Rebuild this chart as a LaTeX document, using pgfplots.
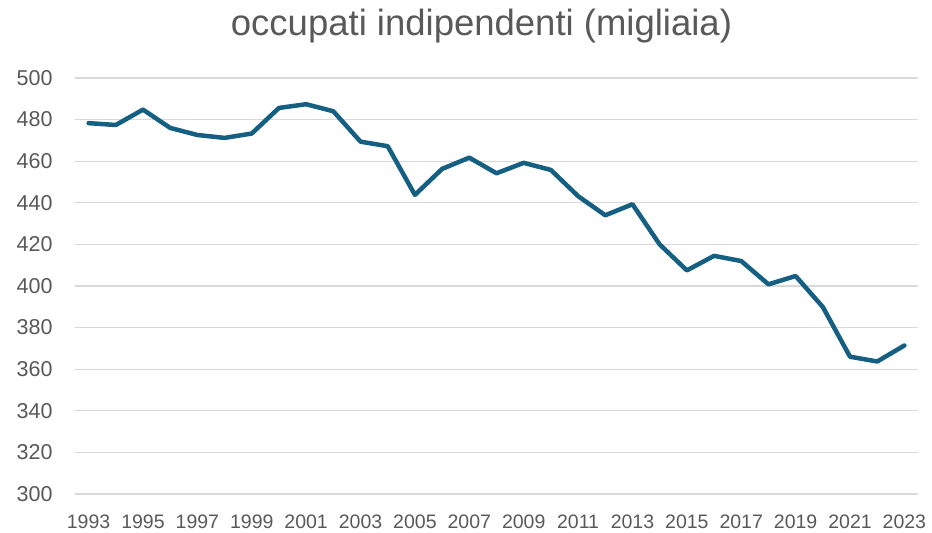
\documentclass[border=0pt]{standalone}
\usepackage{fontspec}
\setmainfont{Liberation Sans}
\usepackage{pgfplots}
\pgfplotsset{compat=1.18}
\definecolor{serie}{HTML}{156082}
\definecolor{testo}{HTML}{595959}
\definecolor{griglia}{HTML}{D9D9D9}

\begin{document}
\begin{tikzpicture}
\begin{axis}[
  name=ax,
  scale only axis,
  width=843bp, height=416bp,
  xmin=1992.5, xmax=2023.5,
  ymin=300, ymax=500,
  xtick={1993,1995,...,2023},
  ytick={300,320,...,500},
  axis line style={draw=none},
  major tick length=0pt,
  ymajorgrids,
  grid style={griglia, line width=1.3bp},
  tick label style={text=testo},
  /pgf/number format/assume math mode=true,
  /pgf/number format/set thousands separator={},
  xticklabel style={font=\fontsize{19.5bp}{22bp}\selectfont, yshift=-17bp},
  yticklabel style={font=\fontsize{21.5bp}{24bp}\selectfont, xshift=-19bp},
  clip=false,
]
\addplot[serie, line width=4.5bp, line join=round, line cap=round] coordinates {
  (1993,478.3) (1994,477.4) (1995,484.8) (1996,476.0) (1997,472.6)
  (1998,471.2) (1999,473.3) (2000,485.6) (2001,487.4) (2002,484.0)
  (2003,469.4) (2004,467.2) (2005,443.8) (2006,456.3) (2007,461.7)
  (2008,454.2) (2009,459.2) (2010,455.8) (2011,443.2) (2012,434.0)
  (2013,439.3) (2014,420.0) (2015,407.5) (2016,414.5) (2017,412.0)
  (2018,400.8) (2019,404.8) (2020,389.9) (2021,366.0) (2022,363.7)
  (2023,371.4)};
\end{axis}
\node[text=testo, font=\fontsize{36.5bp}{42bp}\selectfont, anchor=center]
  at ([shift={(-15bp,52bp)}]ax.north) {occupati indipendenti (migliaia)};
\path[use as bounding box] ([shift={(-75bp,-39bp)}]ax.south west)
  rectangle ([shift={(14bp,78bp)}]ax.north east);
\end{tikzpicture}
\end{document}
